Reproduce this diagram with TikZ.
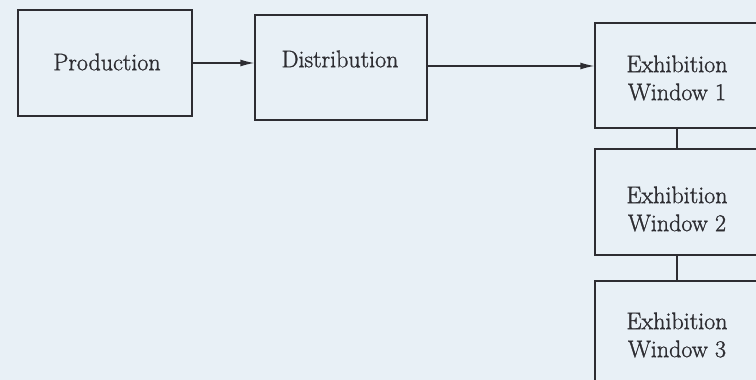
\documentclass[tikz,border=0pt]{standalone}
\usepackage{fontspec}
\newfontfamily\lblfont{Latin Modern Roman}[FakeBold=1.2]
\usetikzlibrary{arrows.meta}
\definecolor{bgc}{RGB}{232,240,246}
\definecolor{ln}{RGB}{45,45,50}
\begin{document}
\begin{tikzpicture}[x=1pt,y=1pt,
  box/.style={draw=ln,line width=1.3pt,minimum width=#1,minimum height=106pt,inner sep=0pt},
  box/.default=172pt,
  lbl/.style={text=ln,font=\lblfont\fontsize{24}{28}\selectfont,align=center,inner sep=0pt},
  conn/.style={draw=ln,line width=1.3pt},
  arr/.style={conn,-{Latex[length=14pt,width=7pt]}}]
\fill[bgc] (0,0) rectangle (756,380);
\useasboundingbox (0,0) rectangle (756,380);
\node[box=174pt] (prod) at (105,317) {};
\node[box=172pt,minimum height=105pt] (dist) at (341,312.5) {};
\node[box=164pt,minimum height=105pt] (ew1) at (677,304.5) {};
\node[box=164pt] (ew2) at (677,178) {};
\node[box=164pt,minimum height=119pt] (ew3) at (677,39.5) {};
\node[lbl] (tprod) at (107,318) {Production};
\node[lbl] (tdist) at (340,321) {Distribution};
\node[lbl] (tew1) at (677,302) {Exhibition\\Window 1};
\node[lbl] (tew2) at (677,171) {Exhibition\\Window 2};
\node[lbl] (tew3) at (677,45) {Exhibition\\Window 3};
\draw[arr] (prod.east) -- (prod.east -| dist.west);
\draw[arr] ([yshift=1.5pt]dist.east) -- ([yshift=1.5pt]dist.east -| ew1.west);
\draw[conn] (ew1.south) -- (ew2.north);
\draw[conn] (ew2.south) -- (ew3.north);
\end{tikzpicture}
\end{document}
